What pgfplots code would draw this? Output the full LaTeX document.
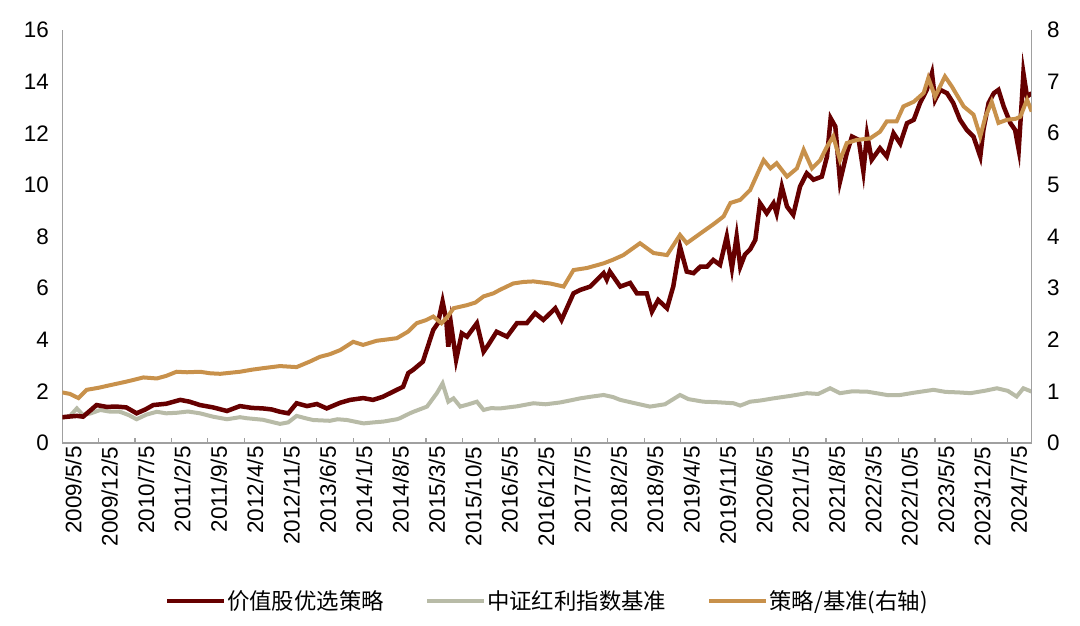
\documentclass[border=0pt]{standalone}
\usepackage{pgfplots}
\pgfplotsset{compat=1.18}
\usepackage{fontspec}
\setmainfont{Liberation Sans}
\newfontfamily\cjk{Noto Sans CJK SC}
\definecolor{cRed}{RGB}{102,0,0}
\definecolor{cGray}{RGB}{184,187,167}
\definecolor{cGold}{RGB}{200,145,75}
\definecolor{cAxis}{RGB}{160,160,160}
\begin{document}
\begin{tikzpicture}
\useasboundingbox (0,0) rectangle (1080bp,626bp);
\begin{axis}[
  at={(62.3bp,183bp)}, anchor=south west,
  scale only axis, width=969.4bp, height=413bp,
  xmin=0, xmax=186.6, ymin=0, ymax=16,
  axis x line*=bottom, axis y line*=left,
  axis line style={cAxis, line width=1.2bp, -},
  xtick={0,7,...,182},
  xticklabels={2009/5/5,2009/12/5,2010/7/5,2011/2/5,2011/9/5,2012/4/5,2012/11/5,2013/6/5,2014/1/5,2014/8/5,2015/3/5,2015/10/5,2016/5/5,2016/12/5,2017/7/5,2018/2/5,2018/9/5,2019/4/5,2019/11/5,2020/6/5,2021/1/5,2021/8/5,2022/3/5,2022/10/5,2023/5/5,2023/12/5,2024/7/5},
  xticklabel style={rotate=90, anchor=east, font=\fontsize{22.5}{26}\selectfont, yshift=-11bp},
  x tick style={cAxis, line width=1.2bp},
  major tick length=5bp,
  ytick={0,2,...,16},
  ytick style={draw=none},
  yticklabel style={font=\fontsize{22.5}{26}\selectfont, xshift=-10bp},
  /pgf/number format/assume math mode=true,
  legend columns=3,
  legend style={at={(0.5,-0.383)}, anchor=center, draw=none, fill=none,
    font=\cjk\fontsize{22.5}{26}\selectfont,
    nodes={inner xsep=1bp},
    /tikz/every even column/.append style={column sep=40bp}},
  legend image code/.code={\draw[#1, line width=4bp] (0bp,0bp) -- (57bp,0bp);},
]
\addplot[cGray, line width=4bp, forget plot] coordinates {
(0,0.98) (1.5,1.05) (2.8,1.34) (4.0,1.08) (5.5,1.15) (7.3,1.28) (9.0,1.22) (11.1,1.21)
(12.8,1.08) (14.3,0.92) (16.2,1.10) (18.2,1.21) (20.0,1.15) (22.0,1.17) (24.2,1.22)
(26.5,1.15) (29.0,1.02) (31.7,0.92) (34.2,1.00) (35.5,0.96) (38.6,0.90) (41.9,0.74)
(43.5,0.80) (45.1,1.05) (47.0,0.95) (48.3,0.89) (51.5,0.86) (53.0,0.92) (54.8,0.89)
(56.5,0.82) (58.0,0.76) (60.0,0.80) (61.8,0.83) (64.4,0.92) (65.0,0.96) (66.9,1.15)
(67.6,1.21) (70.2,1.41) (72.1,1.93) (73.2,2.31) (74.3,1.60) (75.3,1.73) (76.6,1.41)
(78.2,1.50) (79.8,1.60) (81.1,1.28) (82.5,1.35) (84.3,1.34) (87.5,1.42) (90.7,1.54)
(93.0,1.50) (95.8,1.57) (97.8,1.65) (99.7,1.73) (102.0,1.80) (104.2,1.86) (106.0,1.78)
(107.4,1.67) (110.0,1.55) (113.1,1.41) (116.0,1.50) (118.9,1.86) (120.5,1.70)
(123.4,1.60) (126.0,1.58) (129.2,1.54) (130.5,1.45) (132.4,1.60) (134.5,1.65)
(136.9,1.73) (140.0,1.82) (143.3,1.93) (145.5,1.90) (147.8,2.12) (149.7,1.93)
(152.0,2.00) (154.9,1.99) (157.0,1.92) (159.0,1.85) (161.3,1.86) (164.0,1.95)
(167.7,2.06) (170.0,1.98) (172.5,1.96) (174.8,1.93) (177.5,2.02) (179.9,2.12)
(182.0,2.02) (183.7,1.80) (185.0,2.12) (186.6,1.99)
};
\addplot[cRed, line width=4.5bp, forget plot] coordinates {
(0,1.00) (2.8,1.05) (4.0,1.02) (6.6,1.47) (8.5,1.40) (10.5,1.41) (12.3,1.38)
(14.3,1.15) (16.0,1.30) (17.5,1.47) (20.0,1.52) (22.7,1.67) (24.5,1.60) (26.5,1.47)
(29.0,1.38) (31.7,1.24) (34.2,1.43) (36.5,1.36) (38.6,1.34) (40.3,1.30) (41.9,1.21)
(43.5,1.15) (45.1,1.54) (47.1,1.43) (49.0,1.51) (50.9,1.34) (53.5,1.56) (55.4,1.67)
(57.9,1.74) (59.8,1.67) (61.7,1.79) (63.7,1.99) (65.6,2.18) (66.6,2.71) (67.5,2.83)
(69.4,3.15) (71.4,4.38) (72.3,4.64) (73.2,5.48) (73.9,4.77) (74.3,3.73) (74.8,4.64)
(75.8,3.22) (76.9,4.25) (77.9,4.12) (79.8,4.64) (81.1,3.54) (82.0,3.80) (83.6,4.31)
(85.6,4.12) (87.5,4.64) (89.4,4.64) (91.0,5.03) (92.6,4.77) (94.9,5.22) (96.1,4.77)
(98.4,5.80) (99.7,5.93) (101.6,6.06) (104.2,6.58) (104.8,6.33) (105.4,6.64)
(107.4,6.06) (109.3,6.20) (110.6,5.80) (112.5,5.80) (113.5,5.09) (114.7,5.54)
(116.4,5.22) (117.6,6.06) (118.9,7.61) (120.2,6.64) (121.5,6.58) (122.8,6.83)
(124.1,6.83) (125.3,7.09) (126.6,6.90) (127.9,8.00) (128.9,6.77) (129.8,8.00)
(130.5,6.83) (131.4,7.30) (132.4,7.50) (133.4,7.87) (134.3,9.29) (135.6,8.90)
(136.9,9.29) (137.5,8.90) (138.5,9.93) (139.5,9.16) (140.7,8.84) (142.0,9.93)
(143.3,10.45) (144.6,10.20) (146.2,10.32) (147.2,11.10) (147.9,12.58) (148.8,12.26)
(149.7,10.13) (151.0,11.23) (152.0,11.87) (153.3,11.74) (154.2,10.52) (154.9,11.94)
(155.8,10.97) (157.4,11.42) (158.7,11.10) (160.0,12.00) (161.3,11.60) (162.6,12.39)
(163.9,12.52) (165.1,13.17) (166.4,13.68) (167.4,14.33) (168.0,13.29) (169.0,13.68)
(170.3,13.55) (171.5,13.17) (172.8,12.52) (174.1,12.13) (175.4,11.87) (176.7,11.10)
(177.3,12.13) (178.3,13.17) (179.3,13.55) (180.2,13.68) (181.2,13.04) (182.5,12.39)
(183.4,12.13) (184.1,11.36) (184.7,13.29) (185.0,14.33) (185.7,13.42) (186.6,13.55)
};
\addlegendimage{cRed}
\addlegendentry{价值股优选策略}
\addlegendimage{cGray}
\addlegendentry{中证红利指数基准}
\addlegendimage{cGold}
\addlegendentry{策略/基准(右轴)}
\end{axis}
\begin{axis}[
  at={(62.3bp,183bp)}, anchor=south west,
  scale only axis, width=969.4bp, height=413bp,
  xmin=0, xmax=186.6, ymin=0, ymax=8,
  axis x line=none, axis y line*=right,
  axis line style={cAxis, line width=1.2bp, -},
  ytick={0,1,...,8},
  ytick style={draw=none},
  yticklabel style={font=\fontsize{22.5}{26}\selectfont, xshift=12bp},
  /pgf/number format/assume math mode=true,
]
\addplot[cGold, line width=4bp] coordinates {
(0,0.98) (1.5,0.95) (3.1,0.87) (4.7,1.03) (7.0,1.07) (9.2,1.12) (12.4,1.19)
(15.6,1.27) (18.2,1.25) (20.0,1.30) (22.0,1.38) (24.0,1.37) (26.5,1.38) (28.5,1.35)
(30.4,1.34) (34.2,1.38) (36.5,1.42) (38.7,1.45) (41.9,1.49) (43.5,1.48) (45.1,1.47)
(47.7,1.58) (49.6,1.67) (51.5,1.72) (53.5,1.80) (56.0,1.96) (57.9,1.90) (60.5,1.98)
(64.4,2.03) (66.6,2.16) (68.2,2.32) (70.0,2.38) (71.4,2.45) (73.0,2.32) (74.2,2.45)
(75.3,2.61) (77.9,2.67) (79.5,2.72) (81.1,2.84) (83.0,2.90) (84.3,2.97) (86.8,3.09)
(88.8,3.12) (90.7,3.13) (93.9,3.09) (96.5,3.03) (98.4,3.35) (101.0,3.39)
(104.2,3.48) (106.0,3.55) (108.0,3.64) (111.2,3.87) (113.8,3.68) (116.4,3.64)
(118.9,4.03) (120.2,3.87) (123.4,4.10) (125.5,4.25) (127.3,4.39) (128.6,4.65)
(130.5,4.71) (132.4,4.90) (135.0,5.48) (136.3,5.32) (137.5,5.42) (139.5,5.16)
(141.4,5.32) (142.7,5.68) (144.3,5.32) (145.9,5.48) (147.2,5.74) (148.4,5.94)
(149.7,5.48) (151.0,5.81) (152.9,5.87) (155.5,5.90) (157.4,6.03) (158.7,6.23)
(160.6,6.23) (161.9,6.52) (163.9,6.61) (165.8,6.78) (166.7,7.07) (168.0,6.71)
(169.9,7.10) (171.2,6.91) (173.5,6.52) (175.4,6.36) (176.7,5.94) (177.7,6.32)
(178.9,6.61) (180.2,6.20) (181.8,6.26) (183.5,6.28) (184.4,6.32) (185.7,6.65) (186.6,6.42)
};
\end{axis}
\end{tikzpicture}
\end{document}
